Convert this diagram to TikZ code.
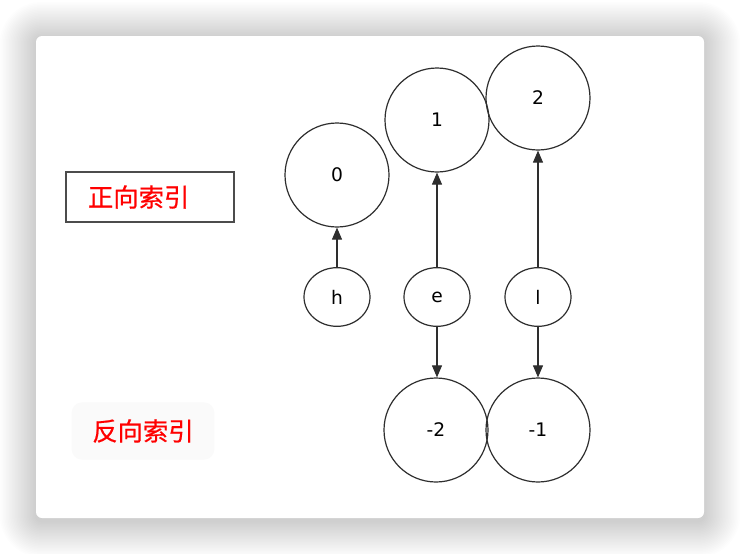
\documentclass[tikz,border=0pt]{standalone}
\usepackage{fontspec}
\setmainfont{DejaVu Sans}
\newfontfamily\cjkfont[FakeBold=0.6]{Noto Sans CJK SC}
\usetikzlibrary{arrows.meta,shapes.geometric}
\definecolor{linegray}{HTML}{2e2e2e}
\tikzset{
  flowarrow/.style={-{Triangle[length=9pt,width=7.5pt]}, line width=0.8pt, draw=linegray},
  bigcircle/.style={draw=linegray, line width=0.9pt, circle, minimum size=78pt, inner sep=0pt, font=\fontsize{14}{16}\selectfont},
  charnode/.style={draw=linegray, line width=0.9pt, ellipse, minimum width=49.5pt, minimum height=44pt, inner sep=0pt, font=\fontsize{14}{16}\selectfont},
  labelbox/.style={draw=black!70, line width=1pt, minimum width=126pt, minimum height=37.5pt, text width=93pt, inner xsep=16.5pt, align=left, text=red, font=\cjkfont\fontsize{19}{21}\selectfont},
  softlabel/.style={fill=black!2, rounded corners=8pt, minimum width=107pt, minimum height=43pt, text=red, font=\cjkfont\fontsize{19}{21}\selectfont}
}

\begin{document}
\begin{tikzpicture}[x=0.75pt, y=-0.75pt]
  \useasboundingbox (0,0) rectangle (740,554);
  \fill[white] (0,0) rectangle (740,554);
  \foreach \s in {1,...,24} {
    \pgfmathsetmacro{\rc}{4.5+\s*1.1}
    \fill[black, opacity=0.007, rounded corners=\rc pt] (36-1.5*\s,38-1.5*\s) rectangle (704+1.5*\s,521+1.5*\s);
  }
  \fill[white, rounded corners=4.5pt] (36,36) rectangle (704,518);

  \node[labelbox] (fwd) at (150,197) {正向索引};
  \node[softlabel] (bwd) at (143,431) {反向索引};

  \node[bigcircle] (zero) at (337,175) {0};
  \node[bigcircle] (one) at (437,120) {1};
  \node[bigcircle] (two) at (538,98) {2};
  \node[charnode] (h) at (337,297) {h};
  \node[charnode] (e) at (437,297) {e};
  \node[charnode] (l) at (538,297) {l};
  \node[bigcircle] (mtwo) at (436,430) {-2};
  \node[bigcircle] (mone) at (538,430) {-1};

  \draw[flowarrow] (h) -- (zero);
  \draw[flowarrow] (e) -- (one);
  \draw[flowarrow] (l) -- (two);
  \draw[flowarrow] (e) -- (e |- mtwo.north);
  \draw[flowarrow] (l) -- (mone);
\end{tikzpicture}
\end{document}
